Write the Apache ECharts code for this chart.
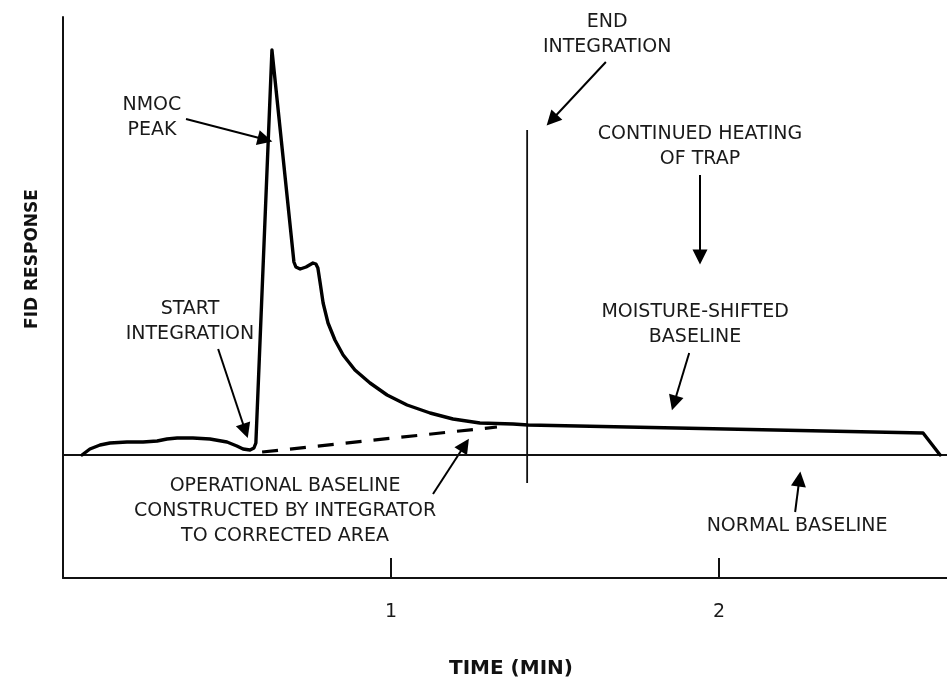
<!DOCTYPE html>
<html>
<head>
<meta charset="utf-8">
<script src="https://cdn.jsdelivr.net/npm/echarts@6/dist/echarts.min.js"></script>
<style>
html,body{margin:0;padding:0;background:#fff;}
#main{width:947px;height:681px;}
</style>
</head>
<body>
<div id="main"></div>
<script>
// ---- data (time in minutes, FID response in arbitrary units, normal baseline = 0) ----
var curveTime = [0.058,0.082,0.113,0.143,0.195,0.244,0.287,0.317,0.348,0.396,0.448,0.500,0.530,0.549,0.570,0.582,0.588,0.637,0.704,0.710,0.723,0.741,0.762,0.771,0.777,0.784,0.793,0.808,0.829,0.854,0.890,0.936,0.988,1.049,1.119,1.189,1.271,1.372,1.418,2.622,2.674];
var curveResp = [0,0.6,1.0,1.2,1.3,1.3,1.4,1.6,1.7,1.7,1.6,1.3,0.9,0.6,0.5,0.7,1.2,40.5,19.3,18.8,18.6,18.8,19.2,19.1,18.7,17.2,15.2,13.2,11.5,10.0,8.5,7.2,6.0,5.0,4.2,3.6,3.2,3.1,3.0,2.2,0];
var operTime = [0.607,1.323];
var operResp = [0.3,2.8];
var normalTime = [0,2.7];
var normalResp = [0,0];
var endIntTime = [1.415,1.415];
var endIntResp = [32.5,-2.8];
var xTicks = [1,2];

var labelTexts = ['NMOC\nPEAK','START\nINTEGRATION','END\nINTEGRATION','CONTINUED HEATING\nOF TRAP','MOISTURE-SHIFTED\nBASELINE','OPERATIONAL BASELINE\nCONSTRUCTED BY INTEGRATOR\nTO CORRECTED AREA','NORMAL BASELINE'];
var labelTime = [0.271,0.387,1.659,1.942,1.927,0.677,2.238];
var labelResp = [33.75,13.35,42.05,30.8,13.0,-5.65,-7.1];
var arrowFrom = [[0.375,33.6],[0.473,10.6],[1.655,39.3],[1.942,28.0],[1.909,10.2],[1.128,-3.9],[2.232,-5.7]];
var arrowTo   = [[0.616,31.55],[0.556,2.4],[1.490,33.5],[1.942,19.8],[1.863,5.2],[1.225,1.0],[2.245,-2.4]];

function zip(a,b){return a.map(function(v,i){return [v,b[i]];});}

var font = 'DejaVu Sans';
var ink = '#111';
var chart = echarts.init(document.getElementById('main'), null, {renderer:'canvas'});
var option = {
  animation:false,
  backgroundColor:'#fff',
  grid:{left:63,right:0,top:17,bottom:103},
  xAxis:{
    type:'value',min:0,max:2.695,interval:1,
    axisLine:{show:true,onZero:false,lineStyle:{color:ink,width:2}},
    axisTick:{show:true,inside:true,length:20,customValues:xTicks,lineStyle:{color:ink,width:2}},
    axisLabel:{margin:25,color:'#1a1a1a',fontFamily:font,fontSize:19,customValues:xTicks,
      formatter:function(v){return xTicks.indexOf(v)>=0?String(v):'';}},
    splitLine:{show:false}
  },
  yAxis:{
    type:'value',min:-12.3,max:43.8,
    axisLine:{show:true,onZero:false,lineStyle:{color:ink,width:2}},
    axisTick:{show:false},axisLabel:{show:false},splitLine:{show:false}
  },
  graphic:[
    {type:'text',x:511,y:669,style:{text:'TIME (MIN)',fontFamily:font,fontWeight:'bold',fontSize:20,fill:ink,align:'center',verticalAlign:'middle'}},
    {type:'text',x:33,y:259,rotation:Math.PI/2,style:{text:'FID RESPONSE',fontFamily:font,fontWeight:'bold',fontSize:17,fill:ink,align:'center',verticalAlign:'middle'}}
  ],
  series:[
    {type:'line',data:zip(normalTime,normalResp),symbol:'none',lineStyle:{color:ink,width:2},silent:true},
    {type:'line',data:zip(endIntTime,endIntResp),symbol:'none',lineStyle:{color:ink,width:1.8},silent:true},
    {type:'line',data:zip(operTime,operResp),symbol:'none',lineStyle:{color:'#000',width:3.2,type:[16,12]},silent:true},
    {type:'line',data:zip(curveTime,curveResp),symbol:'none',smooth:false,lineStyle:{color:'#000',width:3.4,join:'round',cap:'round'},silent:true},
    {type:'lines',coordinateSystem:'cartesian2d',silent:true,
      symbol:['none','triangle'],symbolSize:[8,15],
      lineStyle:{color:'#000',width:2,opacity:1},
      data:arrowFrom.map(function(p,i){return {coords:[p,arrowTo[i]]};})},
    {type:'scatter',symbolSize:0,silent:true,itemStyle:{opacity:1},
      label:{show:true,position:'inside',formatter:function(p){return labelTexts[p.dataIndex];},
        fontFamily:font,fontSize:19,color:'#1a1a1a',opacity:1,lineHeight:25,align:'center'},
      data:zip(labelTime,labelResp)}
  ]
};
chart.setOption(option);
</script>
</body>
</html>
